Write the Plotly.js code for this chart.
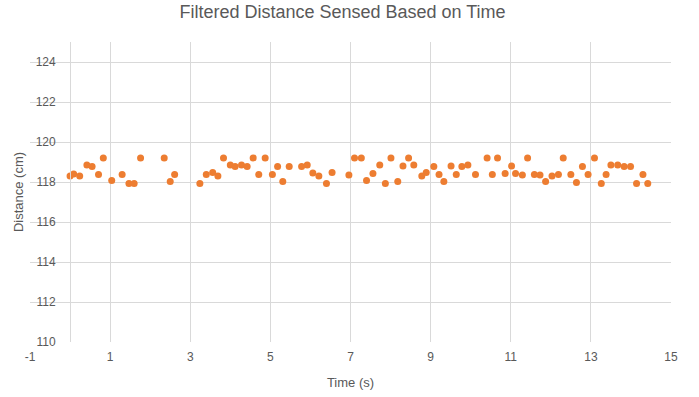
<!DOCTYPE html>
<html>
<head>
<meta charset="utf-8">
<script src="https://cdn.plot.ly/plotly-3.0.1.min.js"></script>
<style>html,body{margin:0;padding:0;background:#fff;}#chart{width:699px;height:397px;}</style>
</head>
<body>
<div id="chart"></div>
<script>
const timeSec = [0.00,0.09,0.24,0.42,0.55,0.71,0.83,1.04,1.30,1.47,1.60,1.76,2.35,2.50,2.61,
  3.24,3.40,3.56,3.69,3.83,4.00,4.12,4.28,4.42,4.57,4.71,4.87,5.05,5.18,5.31,5.47,5.78,5.92,6.06,6.21,6.40,6.54,
  6.96,7.10,7.27,7.40,7.56,7.73,7.87,8.01,8.18,8.31,8.45,8.58,8.78,8.89,9.08,9.21,9.33,9.51,9.64,9.78,9.93,10.12,
  10.41,10.54,10.67,10.86,11.02,11.12,11.29,11.42,11.59,11.73,11.87,12.03,12.19,12.31,12.50,12.64,12.79,12.93,13.09,
  13.26,13.38,13.50,13.67,13.83,13.99,14.14,14.30,14.42];
const distanceCm = [118.30,118.40,118.30,118.85,118.77,118.38,119.20,118.07,118.38,117.93,117.93,119.20,119.20,118.03,118.38,
  117.93,118.38,118.48,118.30,119.20,118.85,118.77,118.85,118.77,119.20,118.38,119.20,118.38,118.77,118.03,118.77,118.77,118.85,118.45,118.30,117.93,118.48,
  118.35,119.20,119.20,118.07,118.42,118.85,117.93,119.20,118.03,118.80,119.20,118.85,118.30,118.48,118.77,118.38,118.03,118.80,118.38,118.77,118.85,118.38,
  119.20,118.38,119.20,118.42,118.80,118.42,118.35,119.20,118.38,118.35,118.03,118.30,118.38,119.20,118.38,117.98,118.77,118.38,119.20,
  117.93,118.38,118.85,118.85,118.77,118.77,117.93,118.38,117.93];
const xTickVals = [-1, 1, 3, 5, 7, 9, 11, 13, 15];
const xTickText = ['-1', '1', '3', '5', '7', '9', '11', '13', '15'];
const yTickVals = [110, 112, 114, 116, 118, 120, 122, 124];
const chartTitle = 'Filtered Distance Sensed Based on Time';
const xTitle = 'Time (s)';
const yTitle = 'Distance (cm)';

const gridC = '#D9D9D9';
const txtC = '#595959';
const fam = '"Liberation Sans Narrow", "Liberation Sans", Arial, sans-serif';
const fam2 = '"Liberation Sans", Arial, sans-serif';

Plotly.newPlot('chart', [{
  x: timeSec, y: distanceCm, type: 'scatter', mode: 'markers',
  marker: {color: '#ED7D31', size: 7}, hoverinfo: 'x+y'
}], {
  width: 699, height: 397,
  margin: {l: 30, r: 28, t: 42, b: 55},
  paper_bgcolor: '#fff', plot_bgcolor: '#fff',
  showlegend: false,
  title: {text: chartTitle, x: 0.49, xanchor: 'center', y: 0.97, yanchor: 'middle',
    font: {family: fam, size: 18, color: txtC}},
  xaxis: {
    range: [-1, 15], tickmode: 'array', tickvals: xTickVals, ticktext: xTickText,
    showgrid: true, gridcolor: gridC, gridwidth: 1, zeroline: false,
    showline: false, ticks: '', ticklabelstandoff: 6,
    tickfont: {family: fam2, size: 12, color: txtC},
    title: {text: xTitle, standoff: 14, font: {family: fam2, size: 13, color: txtC}}
  },
  yaxis: {
    range: [110, 125], tickmode: 'array', tickvals: yTickVals,
    anchor: 'free', position: 0.0625,
    showgrid: true, gridcolor: gridC, gridwidth: 1, zeroline: false,
    showline: true, linecolor: gridC, linewidth: 1, ticks: '',
    ticklabelstandoff: 12,
    tickfont: {family: fam2, size: 12, color: txtC},
    title: {text: yTitle, standoff: 8, font: {family: fam2, size: 13, color: txtC}}
  }
}, {displayModeBar: false, staticPlot: true});
</script>
</body>
</html>
